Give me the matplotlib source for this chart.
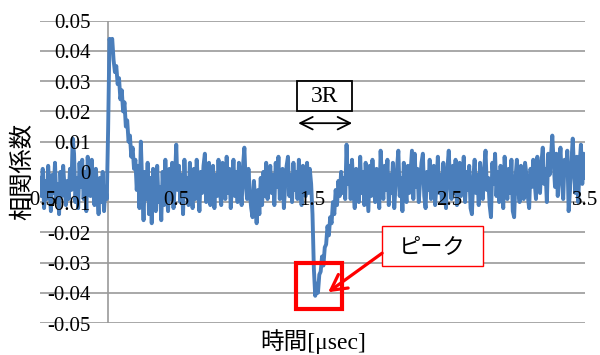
import numpy as np
import matplotlib
matplotlib.use('Agg')
import matplotlib.pyplot as plt
from matplotlib.patches import Rectangle

# correlation coefficient, in units of 1e-3, sampled every 0.01 usec from -0.5 to 3.5
corr_milli = [
    -2, -8, 1, -12, -3, -9, 2, -6, -13, -1, -7, 3, -10, -4, -14, 0, -8, 2, -5, -11,
    -3, -9, 1, -6, 11, 6, -10, -2, -12, 3, -5, 4, -9, 0, -13, 5, -4, -8, 4, -6,
    -11, 1, -7, -14, -2, -10, 0, -13, -5, -9,
    14, 44, 42, 44, 37, 33, 35, 29, 31, 24, 27, 20, 23, 15, 17, 10, 12, 5, 8, 1,
    4, -6, 2, -12, 10, -4, -16, 0, -9, 3, -14, -2, -17, 1, -8, -13, 2, -10, -5, -16,
    0, -11, 4, -7, -13, 1, -9, 3, -12, -3, 9, -6, 2, -10, -1, -14, 4, -8, -2, -11,
    3, -6, -12, 1, -9, 4, -4, -13, 0, -7, 2, 6, -10, -3, 3, -11, -5, 2, -12, -1,
    -8, 4, -6, -11, 3, -2, -9, 5, -7, 1, -12, -3, 4, -8, 0, -10, 3, -5, -11, 2,
    8, -4, -9, 1, -7, -12, -15, -3, -10, -17, -6, -14, -2, -11, 0, -8, 3, -9, -4, 2,
    -7, -1, -11, 3, -5, 5, -9, -2, 1, -12, -4, 2, 5, -8, -1, -10, 3, -6, 0, -9,
    4, -5, -11, 2, -3, -8, 3, -7, 1, -4,
    -14, -32, -41, -37, -40, -34, -33, -28, -31, -25, -24, -18, -21, -15, -17, -10,
    -14, -6, -11, -3, -8, 0, -7, -2, -9,
    9, -4, 2, -9, 4, -6, -12, 1, -3, -10, 5, -7, 0, -11, 3, -5, -13, 2, -8, 4,
    -4, -10, 1, -6, -12,
    7, -3, -9, 2, -6, 4, -11, -1, -7, 3, -12, -4, 1, 7, -8, -2, -13, 3, -5, -10,
    2, -7, 0, 7, -9,
    6, -5, 1, -10, -3, 3, 6, -8, -12, 0, -6, 4, -9, -2, 2, -11, -4, 5, -7, -1,
    -10, 3, -6, -12, 1,
    7, -4, -9, 2, -7, 4, -11, -1, 3, -8, -3, 5, -10, 0, -6, 2, -12, -14, -2, 4,
    -7, -1, -11, 3, -5,
    -9, 1, 7, -6, -2, -11, -15, 3, -4, 6, -8, 0, -10, 2, -5, -12, 5, -3, -9, 1,
    -7, 4, -13, -15, -2,
    4, -6, -10, 2, -4, -9, 3, -1, -8, -12, 1, -5, 4, -3, -9, 5, -2, -7, 3, 8,
    -4, 1, -10, 6, -1,
    5, 12, 3, -5, 6, -8, 2, 8, -3, -9, 4, -1, 7, -13, -6, 3, 11, 0, -7, 5,
    -10, 2, 9, -4, 6, -2,
]
t_start, t_end = -0.5, 3.5

x_ticks = [-0.5, 0.5, 1.5, 2.5, 3.5]
x_tick_labels = ['-0.5', '0.5', '1.5', '2.5', '3.5']
y_ticks = [-0.05, -0.04, -0.03, -0.02, -0.01, 0.0, 0.01, 0.02, 0.03, 0.04, 0.05]
y_tick_labels = ['-0.05', '-0.04', '-0.03', '-0.02', '-0.01', '0',
                 '0.01', '0.02', '0.03', '0.04', '0.05']

BLUE = '#4a7ebb'
GRID = '#9a9a9a'
RED = '#ff0000'
SERIF = 'Liberation Serif'
CJK = 'Noto Sans CJK JP'

corr = np.array(corr_milli) / 1000.
time = np.linspace(t_start, t_end, len(corr))

fig = plt.figure(figsize=(6, 3.55), dpi=100)
ax = fig.add_axes([40 / 600, 1 - 323 / 355, 545 / 600, 302.3 / 355])
ax.set_xlim(t_start, t_end)
ax.set_ylim(-0.05, 0.05)
ax.axis('off')

for v in y_ticks:
    ax.axhline(v, color=GRID, lw=1.2, zorder=1)
ax.axvline(0, color=GRID, lw=1.2, zorder=1)

ax.plot(time, corr, color=BLUE, lw=2.8, solid_joinstyle='round', zorder=2)

for v, lab in zip(y_ticks, y_tick_labels):
    ax.text(-0.13, v - 0.0025, lab, ha='right', va='baseline',
            fontsize=15, family=SERIF, zorder=5)
for v, lab in zip(x_ticks, x_tick_labels):
    ax.text(v, -0.011, lab, ha='center', va='baseline',
            fontsize=15, family=SERIF, zorder=5)

fig.text(22 / 600, 1 - 171 / 355, '相関係数', rotation=90, ha='center',
         va='center', fontsize=17.5, family=CJK)
fig.text(313 / 600, 1 - 342 / 355, '時間[μsec]', ha='center', va='center',
         fontsize=17, family=[SERIF, CJK])

# width of the 3R window
ax.add_patch(Rectangle((1.388, 0.02), 0.403, 0.01, facecolor='white',
                       edgecolor='black', lw=1.3, zorder=6))
ax.text(1.5895, 0.0250, '3R', ha='center', va='center', fontsize=17,
        family=SERIF, zorder=7)
ax.annotate('', xy=(1.791, 0.0161), xytext=(1.395, 0.0161),
            arrowprops=dict(arrowstyle='<->,head_length=0.9,head_width=0.45',
                            lw=1.3, color='black', mutation_scale=10,
                            shrinkA=0, shrinkB=0), zorder=6)

# peak marker
ax.add_patch(Rectangle((1.381, -0.0453), 0.337, 0.0152, facecolor='none',
                       edgecolor=RED, lw=3, zorder=6))
ax.add_patch(Rectangle((2.011, -0.0312), 0.741, 0.0132, facecolor='white',
                       edgecolor=RED, lw=1, zorder=6))
ax.text(2.382, -0.0246, 'ピーク', ha='center', va='center', fontsize=16,
        family=CJK, zorder=7)
ax.annotate('', xy=(1.615, -0.0398), xytext=(2.011, -0.0269),
            arrowprops=dict(arrowstyle='->,head_length=1.1,head_width=0.6',
                            lw=2.3, color=RED, mutation_scale=10,
                            shrinkA=0, shrinkB=0), zorder=7)

fig.savefig('out.png', dpi=100)
